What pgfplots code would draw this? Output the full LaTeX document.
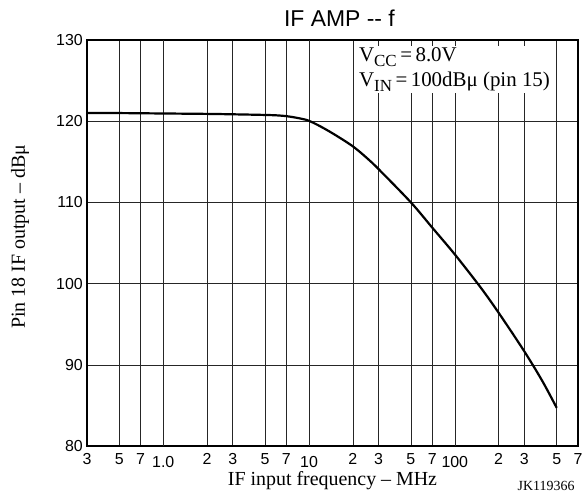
\documentclass[border=0pt]{standalone}
\usepackage{fontspec}
\setmainfont{Liberation Serif}
\setsansfont{Liberation Sans}
\usepackage{pgfplots}
\pgfplotsset{compat=1.18}
\newcommand{\lowlab}[1]{\raisebox{-3bp}{\sffamily\fontsize{16}{16}\selectfont #1}}
\begin{document}
\begin{tikzpicture}
\path (-87bp,-51bp) rectangle (496bp,446bp);
\begin{axis}[
  at={(0,0)}, anchor=south west,
  scale only axis, width=491bp, height=406bp,
  xmode=log, xmin=0.3, xmax=700, ymin=80, ymax=130,
  xtick={0.3,0.5,0.7,1,2,3,5,7,10,20,30,50,70,100,200,300,500,700},
  xticklabels={3,5,7,\lowlab{1.0},2,3,5,7,\lowlab{10},2,3,5,7,\lowlab{100},2,3,5,7},
  extra x ticks={1,10,100},
  extra x tick labels={},
  extra x tick style={grid style={black, line width=1.1bp}},
  ytick={80,90,100,110,120,130},
  major tick length=0pt,
  minor tick length=0pt,
  grid=major,
  major grid style={black!85, line width=0.6bp},
  axis line style={black, line width=1.3bp},
  tick label style={font=\sffamily\fontsize{16}{16}\selectfont},
  /pgf/number format/assume math mode=true,
  xticklabel style={anchor=base, yshift=-18bp, inner sep=0pt},
  yticklabel style={anchor=east, xshift=-4bp, inner sep=0pt},
  title={IF AMP -{}- f},
  title style={font=\sffamily\fontsize{23}{23}\selectfont, at={(axis description cs:0.5,1)}, anchor=base, yshift=8bp, xshift=7bp},
  xlabel={IF input frequency -- MHz},
  ylabel={Pin 18 IF output -- dBμ},
  label style={font=\fontsize{20}{20}\selectfont},
  xlabel style={at={(axis description cs:0.5,0)}, anchor=base, yshift=-39bp},
  ylabel style={at={(axis description cs:-0.1365,0.515)}, anchor=center},
  clip=false,
]
\addplot[black, line width=2.2bp, smooth, tension=0.5] coordinates {
  (0.3,121.0) (0.5,121.0) (1,120.95) (2,120.9) (3,120.85) (5,120.77)
  (6,120.72) (7,120.62) (8,120.46) (9,120.28) (10,120.05) (12,119.35)
  (15,118.35) (20,116.9) (25,115.45) (30,114.1) (50,110.0) (70,106.9) (100,103.6)
  (150,99.55) (200,96.4) (300,91.65) (400,87.95) (500,84.7)
};
\node[fill=white, anchor=north west, align=left, inner sep=2bp,
      font=\fontsize{21}{25}\selectfont]
  at (axis cs:21.3,129.3)
  {V\raisebox{-0.45ex}{\fontsize{17}{17}\selectfont CC}\,=\,8.0V\\
   V\raisebox{-0.45ex}{\fontsize{17}{17}\selectfont IN}\,=\,100dBμ (pin 15)};
\node[anchor=base east, font=\fontsize{14}{14}\selectfont]
  at ([yshift=-44bp]rel axis cs:1,0) {JK119366};
\end{axis}
\end{tikzpicture}
\end{document}
